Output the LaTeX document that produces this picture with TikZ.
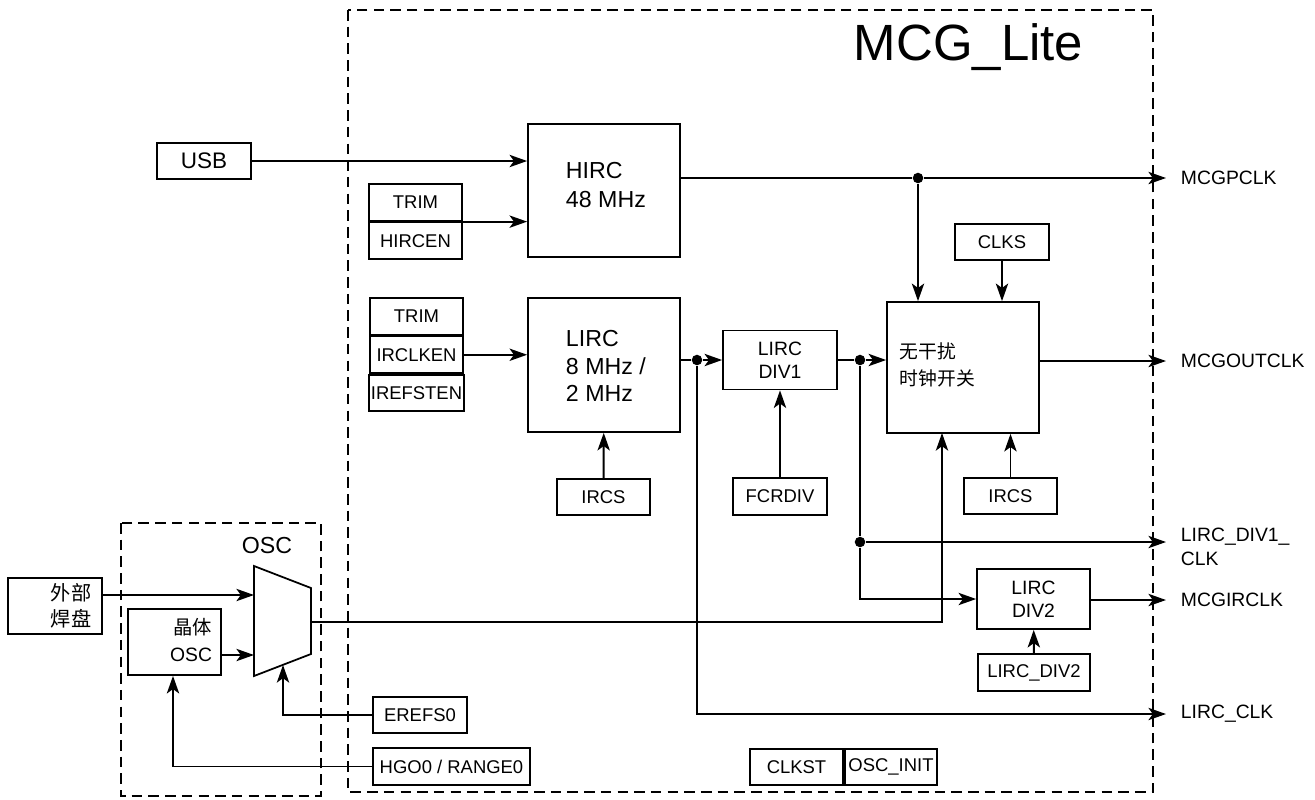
\documentclass[tikz,border=0pt]{standalone}
\usepackage{fontspec}
\setmainfont{Liberation Sans}
\newfontfamily\cjk{Noto Sans CJK SC}
\usetikzlibrary{arrows.meta,positioning}

\begin{document}
\begin{tikzpicture}[x=0.02cm, y=-0.02cm, line width=1.1pt,
    blk/.style={draw, line width=1pt, inner sep=1pt, font=\fontsize{10.5}{12.5}\selectfont},
    reg/.style={blk, minimum width=1.87cm, minimum height=0.73cm},
    big/.style={draw, line width=1pt, minimum width=3.04cm, minimum height=2.66cm},
    txt/.style={inner sep=0pt, align=left},
    sig/.style={-{Stealth[length=10pt, width=7pt, inset=2.5pt]}},
    dot/.style={circle, fill, inner sep=0pt, minimum size=6pt},
    outl/.style={anchor=west, inner sep=0pt, font=\fontsize{11}{13.6}\selectfont, align=left},
    frame/.style={draw, line width=1pt, dash pattern=on 6pt off 3.5pt}]
    \useasboundingbox (0,0) rectangle (1315,799);

    % frames
    \draw[frame] (348,10) rectangle (1153,792);
    \draw[frame] (121,523) rectangle (321,796);
    \node[anchor=west, inner sep=0pt, font=\fontsize{29}{32}\selectfont] (title) at (853,47) {MCG\_Lite};
    \node[inner sep=0pt, font=\fontsize{13.2}{15}\selectfont] (osct) at (267,546) {OSC};

    % HIRC
    \node[reg, font=\fontsize{12.8}{15}\selectfont] (usb) at (204,161) {USB};
    \node[big] (hirc) at (604,190.5) {};
    \node[txt, anchor=west, font=\fontsize{13.2}{17}\selectfont] (hirct) at (565,185) {HIRC\\48 MHz};
    \node[reg] (trim1) at (415.5,202.5) {TRIM};
    \node[reg, below=0pt of trim1] (hircen) {HIRCEN};

    % LIRC
    \node[reg] (trim2) at (416.5,316.5) {TRIM};
    \node[reg, below=0pt of trim2] (irclken) {IRCLKEN};
    \node[reg, below=0pt of irclken] (irefsten) {IREFSTEN};
    \node[big, minimum height=2.68cm] (lirc) at (604,365) {};
    \node[txt, anchor=west, font=\fontsize{13.2}{15.6}\selectfont] (lirct) at (565,366) {LIRC\\8 MHz /\\2 MHz};
    \node[blk, minimum width=2.28cm, minimum height=1.18cm, align=center,
          font=\fontsize{11}{13}\selectfont] (div1) at (780,360) {LIRC\\DIV1};
    \node[reg] (fcrdiv) at (780,496.5) {FCRDIV};
    \node[reg] (ircs1) at (603.5,497) {IRCS};

    % switch
    \node[big, minimum height=2.62cm] (sw) at (963,367.5) {};
    \node[txt, anchor=west, font=\cjk\fontsize{10.7}{15}\selectfont] (swt) at (899,365) {无干扰\\时钟开关};
    \node[reg] (clks) at (1002,242) {CLKS};
    \node[reg] (ircs2) at (1010.5,496) {IRCS};

    % DIV2
    \node[blk, minimum width=2.26cm, minimum height=1.2cm, align=center,
          font=\fontsize{11}{13}\selectfont] (div2) at (1033.5,599) {LIRC\\DIV2};
    \node[reg, minimum width=2.24cm] (ldiv2) at (1034,672.5) {LIRC\_DIV2};

    % OSC
    \node[blk, minimum width=1.88cm, minimum height=1.12cm, align=right,
          font=\cjk\fontsize{11.5}{15}\selectfont] (ext) at (55,606) {\hspace*{1.6em}外部\\焊盘};
    \node[blk, minimum width=1.86cm, minimum height=1.32cm] (xtal) at (174.5,642) {};
    \node[txt, anchor=east, align=right, font=\fontsize{11}{15}\selectfont] (xtalt) at (213,640) {{\cjk 晶体}\\OSC};
    \draw[line width=1pt] (254,566) -- (311,588) -- (311,654) -- (254,676) -- cycle;
    \coordinate (mi1) at (254,595);
    \coordinate (mi2) at (254,655);
    \coordinate (msel) at (283,665);
    \coordinate (mout) at (311,622);
    \node[reg] (erefs) at (420,715) {EREFS0};
    \node[reg, minimum width=3.14cm] (hgo) at (451.5,766.5) {HGO0 / RANGE0};
    \node[reg] (clkst) at (796.5,767) {CLKST};
    \node[reg, right=0pt of clkst, minimum width=1.84cm] (oscinit) {OSC\_INIT};

    % outputs
    \node[outl] (mcgpclk) at (1180,178) {MCGPCLK};
    \node[outl] (mcgout) at (1180,361) {MCGOUTCLK};
    \node[outl, anchor=north west] (ldiv1clk) at (1180,527) {LIRC\_DIV1\_\\CLK};
    \node[outl] (mcgir) at (1180,600) {MCGIRCLK};
    \node[outl] (lircclk) at (1180,714) {LIRC\_CLK};
    \coordinate (o1) at (1166,178);
    \coordinate (o2) at (1166,361);
    \coordinate (o3) at (1166,542);
    \coordinate (o4) at (1166,600);
    \coordinate (o5) at (1166,714);

    \node[dot] (d1) at (918,178) {};
    \node[dot] (d2) at (697,360) {};
    \node[dot] (d3) at (860,360) {};
    \node[dot] (d4) at (860,542) {};

    % connections
    \draw[sig] (usb.east) -- (usb.east -| hirc.west);
    \draw[sig] (trim1.south east) -- (trim1.south east -| hirc.west);
    \draw (hirc.east |- d1) -- (d1);
    \draw[sig] (d1) -- (o1);
    \draw[sig] (d1) -- (d1 |- sw.north);
    \draw[sig] (clks) -- (clks |- sw.north);
    \draw[sig] (irclken.east) -- (irclken.east -| lirc.west);
    \draw (lirc.east |- d2) -- (d2);
    \draw[sig] (d2) -- (div1.west);
    \draw (div1.east) -- (d3);
    \draw[sig] (d3) -- (d3 -| sw.west);
    \draw[sig] (fcrdiv) -- (div1);
    \draw[sig] (ircs1) -- (lirc);
    \draw[sig] (ircs2) -- (ircs2 |- sw.south);
    \draw[sig] (sw.east |- o2) -- (o2);
    \draw (d3) -- (d4);
    \draw[sig] (d4) -- (o3);
    \draw[sig] (d4) |- (div2.west);
    \draw[sig] (div2.east |- o4) -- (o4);
    \draw[sig] (ldiv2) -- (div2);
    \draw[sig] (d2) |- (o5);
    \draw[sig] (ext.east |- mi1) -- (mi1);
    \draw[sig] (xtal.east |- mi2) -- (mi2);
    \draw[sig] (mout) -| (942,433);
    \draw[sig] (erefs.west) -| (msel);
    \draw[sig] (hgo.west) -| (xtal.south -| 173,0);
\end{tikzpicture}
\end{document}
